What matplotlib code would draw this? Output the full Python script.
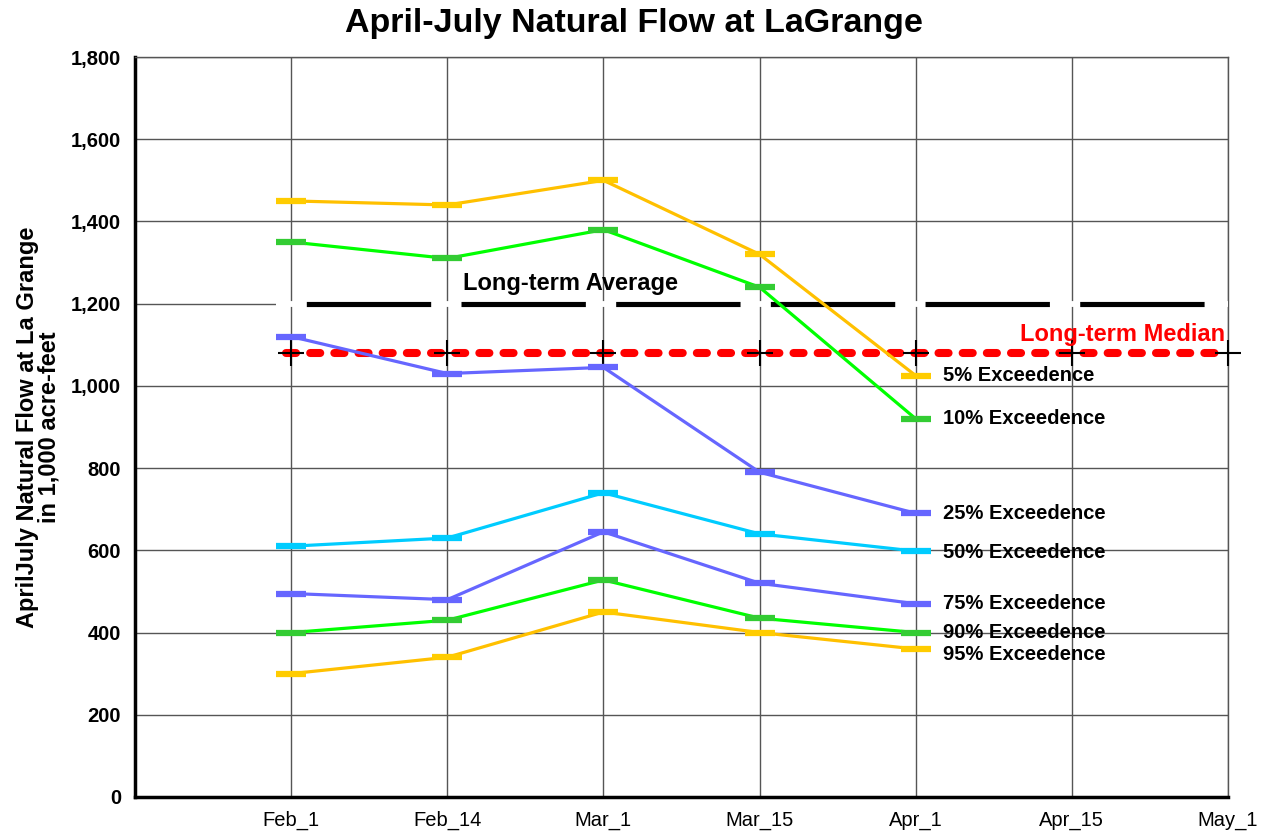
import matplotlib
matplotlib.use('Agg')
import matplotlib.pyplot as plt
import numpy as np

plt.rcParams['font.family'] = ['Liberation Sans', 'DejaVu Sans']

# forecast dates and exceedence series (1,000 acre-feet)
dates = ['Feb_1', 'Feb_14', 'Mar_1', 'Mar_15', 'Apr_1', 'Apr_15', 'May_1']
exc_5 = [1450, 1440, 1500, 1320, 1025]
exc_10 = [1350, 1310, 1380, 1240, 920]
exc_25 = [1120, 1030, 1045, 790, 690]
exc_50 = [610, 630, 740, 640, 598]
exc_75 = [495, 480, 645, 520, 470]
exc_90 = [400, 430, 528, 435, 400]
exc_95 = [300, 340, 450, 400, 360]
long_term_avg = 1200
long_term_median = 1080

series = [
    ('5% Exceedence', exc_5, '#FFC000', '#FFCC00', 0),
    ('10% Exceedence', exc_10, '#00FF00', '#33CC33', 0),
    ('25% Exceedence', exc_25, '#6666FF', '#6666FF', 0),
    ('50% Exceedence', exc_50, '#00CCFF', '#00CCFF', -1),
    ('75% Exceedence', exc_75, '#6666FF', '#6666FF', 0),
    ('90% Exceedence', exc_90, '#00FF00', '#33CC33', 0),
    ('95% Exceedence', exc_95, '#FFC000', '#FFCC00', -4),
]

fig = plt.figure(figsize=(12.67, 8.33), dpi=100)
ax = fig.add_axes([135 / 1267, 1 - 797 / 833, (1228 - 135) / 1267, (797 - 57) / 833])

xpos = np.arange(1, len(dates) + 1)
ax.set_xlim(0, len(dates))
ax.set_ylim(0, 1800)
ax.set_xticks(xpos)
ax.set_xticklabels(dates, fontsize=14.5)
yt = np.arange(0, 1801, 200)
ax.set_yticks(yt)
ax.set_yticklabels([f'{v:,}' for v in yt], fontsize=14.5, fontweight='bold')
ax.tick_params(length=0, pad=10)

ax.grid(color='#555555', lw=1)
ax.set_axisbelow(True)
for s in ['left', 'bottom']:
    ax.spines[s].set_linewidth(2.5)
    ax.spines[s].set_color('black')
for s in ['top', 'right']:
    ax.spines[s].set_linewidth(1)
    ax.spines[s].set_color('#555555')

# long-term average: white under-line with black long dashes
ax.plot([0.9, 7], [long_term_avg] * 2, color='white', lw=4.2, zorder=3, solid_capstyle='butt')
ax.plot([0.9, 7], [long_term_avg] * 2, color='black', lw=3.7, zorder=3.1,
        linestyle=(24.2, (24.2, 5.9)), dash_capstyle='butt')
ax.text(2.79, long_term_avg + 50, 'Long-term Average', fontsize=17, fontweight='bold',
        ha='center', va='center', zorder=5)

# long-term median: red rounded dashes with black crosses at each date
ax.plot([0.97, 7], [long_term_median] * 2, color='#FF0000', lw=5.8, zorder=3.2,
        linestyle=(0, (1.25, 1.75)), dash_capstyle='round')
ax.plot(xpos, [long_term_median] * len(xpos), linestyle='none', marker='+', color='black',
        markersize=19, markeredgewidth=1.5, zorder=3.3, clip_on=False)
ax.annotate('Long-term Median', xy=(7, long_term_median), xytext=(-2, 13),
            textcoords='offset points', color='#FF0000', fontsize=17, fontweight='bold',
            ha='right', va='center', zorder=5)

for label, vals, lc, mc, nudge in series:
    xs = xpos[:len(vals)]
    ax.plot(xs, vals, color=lc, lw=2.3, zorder=4)
    ax.plot(xs, vals, linestyle='none', marker='_', color=mc, markersize=22,
            markeredgewidth=4.5, zorder=4.5)
    ax.annotate(label, xy=(xs[-1], vals[-1]), xytext=(20, nudge),
                textcoords='offset points', fontsize=14.5, fontweight='bold',
                ha='left', va='center', zorder=5)

ax.set_ylabel('AprilJuly Natural Flow at La Grange\nin 1,000 acre-feet', fontsize=17,
              fontweight='bold', linespacing=0.95)
ax.yaxis.set_label_coords(-0.068, 0.5)
fig.suptitle('April-July Natural Flow at LaGrange', fontsize=24.5, fontweight='bold',
             x=0.5, y=0.99, va='top')

fig.savefig('out.png', dpi=100)
